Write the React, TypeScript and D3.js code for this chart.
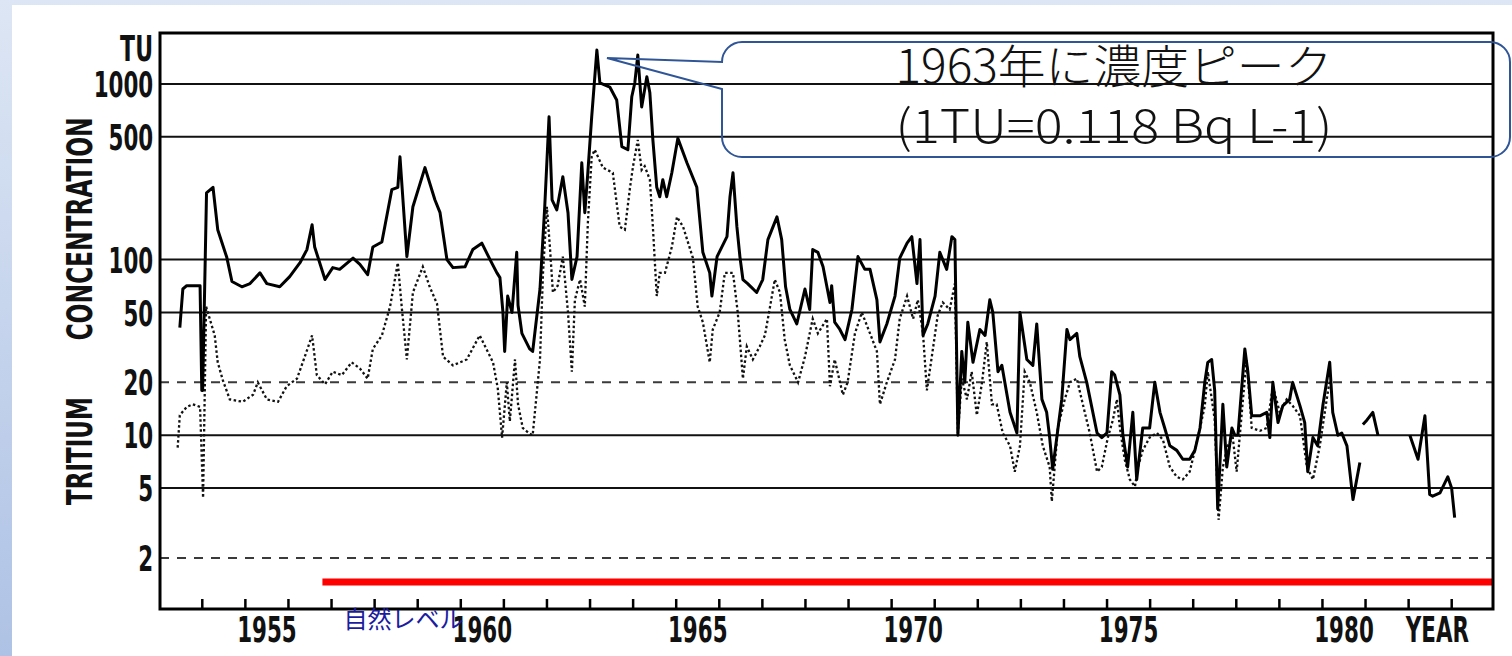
import React, { useRef, useEffect } from "react";
import * as d3 from "d3";

// Tritium in precipitation (TU), solid line; null marks a gap in the record
const solidYears = [
  1953.49, 1953.56, 1953.65, 1953.96, 1954.0, 1954.02, 1954.11, 1954.26, 1954.37, 1954.58,
  1954.7, 1954.93, 1955.12, 1955.35, 1955.51, 1955.81, 1956.04, 1956.28, 1956.44, 1956.56,
  1956.62, 1956.86, 1957.04, 1957.2, 1957.51, 1957.67, 1957.85, 1957.97, 1958.18, 1958.41,
  1958.55, 1958.6, 1958.76, 1958.9, 1959.18, 1959.41, 1959.53, 1959.69, 1959.83, 1960.11,
  1960.29, 1960.5, 1960.69, 1960.85, 1960.92, 1960.99, 1961.03, 1961.1, 1961.2, 1961.31,
  1961.34, 1961.43, 1961.61, 1961.68, 1961.85, 1961.96, 1962.06, 1962.13, 1962.24, 1962.38,
  1962.5, 1962.59, 1962.71, 1962.82, 1962.89, 1962.96, 1963.05, 1963.17, 1963.24, 1963.47,
  1963.63, 1963.75, 1963.89, 1963.98, 1964.05, 1964.12, 1964.21, 1964.33, 1964.4, 1964.47,
  1964.56, 1964.63, 1964.7, 1964.79, 1964.91, 1965.05, 1965.26, 1965.49, 1965.63, 1965.79,
  1965.84, 1965.96, 1966.19, 1966.26, 1966.33, 1966.42, 1966.49, 1966.56, 1966.67, 1966.88,
  1967.02, 1967.14, 1967.35, 1967.46, 1967.55, 1967.65, 1967.81, 1968.0, 1968.11, 1968.18,
  1968.3, 1968.42, 1968.58, 1968.62, 1968.69, 1968.81, 1968.93, 1969.09, 1969.23, 1969.39,
  1969.51, 1969.67, 1969.74, 1969.9, 1970.09, 1970.2, 1970.37, 1970.48, 1970.6, 1970.67,
  1970.74, 1970.85, 1971.02, 1971.13, 1971.29, 1971.41, 1971.48, 1971.55, 1971.64, 1971.71,
  1971.78, 1971.9, 1972.06, 1972.18, 1972.29, 1972.36, 1972.48, 1972.57, 1972.76, 1972.92,
  1972.99, 1973.15, 1973.29, 1973.38, 1973.5, 1973.61, 1973.68, 1973.75, 1973.96, 1974.08,
  1974.15, 1974.31, 1974.38, 1974.54, 1974.78, 1974.89, 1975.01, 1975.12, 1975.19, 1975.31,
  1975.38, 1975.49, 1975.61, 1975.7, 1975.84, 1976.0, 1976.12, 1976.24, 1976.35, 1976.47,
  1976.63, 1976.77, 1976.93, 1977.05, 1977.17, 1977.28, 1977.35, 1977.44, 1977.51, 1977.58,
  1977.7, 1977.79, 1977.91, 1977.98, 1978.05, 1978.14, 1978.21, 1978.28, 1978.37, 1978.56,
  1978.72, 1978.79, 1978.86, 1978.98, 1979.09, 1979.25, 1979.32, 1979.49, 1979.6, 1979.67,
  1979.79, 1979.9, 1980.02, 1980.18, 1980.25, 1980.37, 1980.46, 1980.58, 1980.72, 1980.88,
  1980.92, 1980.95, 1981.02, 1981.18, 1981.3, 1981.6, 1982.04, 1982.23, 1982.39, 1982.5,
  1982.57, 1982.74, 1982.92, 1983.01, 1983.08,
];
const solidValues: (number | null)[] = [
  41, 68, 71, 71, 18, 18, 240, 258, 148, 103,
  75, 70, 73, 84, 73, 70, 80, 96, 114, 158,
  118, 77, 90, 88, 102, 94, 82, 118, 126, 250,
  258, 385, 104, 200, 334, 219, 185, 100, 90, 91,
  114, 124, 100, 84, 79, 50, 30, 62, 50, 110,
  55, 38, 31, 30, 68, 200, 650, 219, 192, 296,
  185, 77, 104, 356, 185, 312, 650, 1560, 1013, 960,
  811, 440, 422, 845, 1013, 1460, 740, 1100, 890, 480,
  258, 228, 285, 228, 312, 490, 356, 258, 110, 84,
  62, 104, 135, 228, 312, 154, 104, 77, 73, 65,
  77, 130, 175, 130, 70, 52, 43, 68, 52, 114,
  110, 91, 57, 71, 44, 40, 35, 52, 104, 88,
  88, 59, 34, 43, 62, 102, 124, 135, 73, 130,
  37, 43, 62, 110, 88, 135, 130, 10, 30, 20,
  44, 26, 40, 37, 59, 50, 23, 25, 13.5, 10.3,
  50, 27, 25, 43, 16, 13.5, 9.7, 6.4, 16, 40,
  35, 38, 28, 20, 10.3, 9.7, 10.3, 23, 22, 17,
  10, 6.6, 13.5, 5.6, 11, 11, 20, 13.5, 11, 8.7,
  8.2, 7.3, 7.3, 8.2, 11, 20, 26, 27, 18, 3.8,
  15, 6.6, 11, 10, 10, 19, 31, 23, 12.9, 12.9,
  13.5, 9.7, 20, 11.8, 14.7, 16, 20, 14.7, 11.8, 6.2,
  9.7, 8.7, 14.7, 26, 13.5, 10, 10.3, 8.7, 4.3, 7,
  null, 11.5, 12, 13.5, 10, null, 10, 7.3, 12.9, 4.6,
  4.5, 4.7, 5.8, 5, 3.4,
];

// second record, dotted line
const dottedYears = [
  1953.44, 1953.49, 1953.65, 1953.79, 1953.96, 1954.03, 1954.1, 1954.3, 1954.37, 1954.49,
  1954.65, 1954.95, 1955.19, 1955.3, 1955.51, 1955.77, 1955.97, 1956.21, 1956.39, 1956.56,
  1956.67, 1956.86, 1957.04, 1957.25, 1957.48, 1957.67, 1957.85, 1957.97, 1958.18, 1958.37,
  1958.55, 1958.64, 1958.76, 1958.9, 1959.13, 1959.29, 1959.46, 1959.6, 1959.83, 1960.15,
  1960.45, 1960.76, 1960.87, 1960.97, 1961.08, 1961.15, 1961.27, 1961.34, 1961.45, 1961.61,
  1961.68, 1961.85, 1961.92, 1962.01, 1962.08, 1962.15, 1962.26, 1962.38, 1962.5, 1962.59,
  1962.66, 1962.78, 1962.89, 1962.96, 1963.05, 1963.12, 1963.31, 1963.54, 1963.7, 1963.82,
  1963.94, 1964.01, 1964.12, 1964.21, 1964.28, 1964.4, 1964.47, 1964.56, 1964.63, 1964.75,
  1964.91, 1965.03, 1965.17, 1965.4, 1965.51, 1965.63, 1965.79, 1965.86, 1966.02, 1966.14,
  1966.33, 1966.44, 1966.56, 1966.65, 1966.79, 1966.95, 1967.07, 1967.19, 1967.3, 1967.42,
  1967.53, 1967.65, 1967.84, 1968.0, 1968.11, 1968.18, 1968.3, 1968.51, 1968.58, 1968.69,
  1968.88, 1968.99, 1969.16, 1969.32, 1969.51, 1969.67, 1969.74, 1969.9, 1970.09, 1970.2,
  1970.37, 1970.51, 1970.62, 1970.74, 1970.83, 1970.97, 1971.08, 1971.2, 1971.36, 1971.48,
  1971.55, 1971.64, 1971.76, 1971.87, 1971.99, 1972.11, 1972.22, 1972.34, 1972.45, 1972.59,
  1972.76, 1972.87, 1972.99, 1973.1, 1973.22, 1973.38, 1973.52, 1973.68, 1973.73, 1973.87,
  1974.03, 1974.15, 1974.31, 1974.45, 1974.61, 1974.78, 1974.89, 1975.03, 1975.15, 1975.24,
  1975.31, 1975.42, 1975.54, 1975.66, 1975.73, 1975.84, 1976.0, 1976.17, 1976.31, 1976.47,
  1976.63, 1976.77, 1976.93, 1977.05, 1977.17, 1977.28, 1977.35, 1977.51, 1977.6, 1977.7,
  1977.81, 1977.93, 1978.02, 1978.14, 1978.25, 1978.37, 1978.56, 1978.72, 1978.86, 1979.02,
  1979.18, 1979.32, 1979.49, 1979.65, 1979.79, 1979.95, 1980.11, 1980.18,
];
const dottedValues = [
  8.5, 13, 14.5, 15, 14.5, 4.4, 54, 37, 26, 20.5,
  16, 15.5, 17, 20, 16, 15.5, 19, 21, 28, 37,
  22, 19.5, 23, 22, 26, 24, 21, 31, 37, 54,
  96, 54, 27, 65, 91, 70, 56, 28, 25, 27,
  37, 26, 18.5, 9.7, 20, 12, 27, 15, 11, 10.2,
  10, 27, 84, 200, 118, 65, 71, 104, 50, 23,
  59, 77, 54, 160, 385, 422, 334, 312, 154, 148,
  258, 340, 480, 324, 340, 285, 154, 62, 84, 84,
  118, 175, 154, 102, 54, 44, 26, 40, 50, 84,
  84, 50, 21, 32, 27, 32, 37, 54, 77, 65,
  35, 25, 20, 28, 38, 46, 38, 46, 19, 27,
  17, 20, 38, 50, 38, 30, 15, 20, 27, 46,
  62, 46, 59, 38, 18, 31, 48, 57, 52, 73,
  10.3, 21, 16, 23, 13, 20, 34, 15, 15, 10.3,
  8.7, 6.2, 8.7, 23, 20, 13.5, 8.7, 6.6, 4.2, 11,
  16, 20, 21, 15, 10.3, 6.2, 6.6, 9.7, 12.3, 16,
  11, 7.3, 5.6, 5.1, 6.6, 8.2, 9.7, 10.3, 9.4, 6.6,
  5.8, 5.6, 6.2, 8.2, 11, 14.7, 23, 12.3, 3.3, 6.6,
  8.7, 9.7, 6.2, 13.5, 27, 11, 10.6, 11, 19, 13.5,
  16, 14.7, 12.9, 6.6, 5.6, 8.7, 16, 20.5,
];

const gridValues = [1000, 500, 100, 50, 20, 10, 5, 2];
const dashedGridValues = [20, 2];
const yearTicks = [
  1954, 1955, 1956, 1957, 1958, 1959, 1960, 1961, 1962, 1963, 1964, 1965, 1966, 1967, 1968,
  1969, 1970, 1971, 1972, 1973, 1974, 1975, 1976, 1977, 1978, 1979, 1980, 1981, 1982, 1983,
];
const labelYears = [1955, 1960, 1965, 1970, 1975, 1980];
const naturalLevel = 1.46;
const naturalLevelFrom = 1956.8;
const naturalLevelLabel = "自然レベル";
const peakNote = ["1963年に濃度ピーク", "(1TU=0.118 Bq L-1)"];

const App: React.FC = () => {
  const chartRef = useRef<SVGSVGElement | null>(null);

  useEffect(() => {
    if (!chartRef.current) return;
    const svg = d3.select(chartRef.current);
    svg.selectAll("*").remove();

    const width = 1512;
    const height = 656;
    const left = 160;
    const right = 1493;
    const top = 33;
    const bottom = 609;
    const axisFont = "'DejaVu Sans Condensed', 'DejaVu Sans', sans-serif";
    const jpFont = "'Noto Sans CJK JP', 'Noto Sans', sans-serif";

    const x = d3.scaleLinear().domain([1953.03, 1983.97]).range([left, right]);
    const y = d3.scaleLog().domain([1.025, 1950]).range([bottom, top]);

    // slide background
    const grad = svg
      .append("defs")
      .append("linearGradient")
      .attr("id", "bg")
      .attr("x1", 0)
      .attr("y1", 0)
      .attr("x2", 0)
      .attr("y2", 1);
    grad.append("stop").attr("offset", "0%").attr("stop-color", "#dde6f4");
    grad.append("stop").attr("offset", "100%").attr("stop-color", "#aec2e5");
    svg.append("rect").attr("width", width).attr("height", height).attr("fill", "url(#bg)");
    svg
      .append("rect")
      .attr("x", 12)
      .attr("y", 5)
      .attr("width", width - 12)
      .attr("height", height - 5)
      .attr("fill", "#fff");

    // horizontal grid
    svg
      .append("g")
      .selectAll("line")
      .data(gridValues)
      .join("line")
      .attr("x1", left)
      .attr("x2", right)
      .attr("y1", (d) => y(d))
      .attr("y2", (d) => y(d))
      .attr("stroke", (d) => (dashedGridValues.includes(d) ? "#3a3a3a" : "#111"))
      .attr("stroke-width", 2)
      .attr("stroke-dasharray", (d) => (dashedGridValues.includes(d) ? "9,8" : null));

    // natural level
    svg
      .append("line")
      .attr("x1", x(naturalLevelFrom))
      .attr("x2", right)
      .attr("y1", y(naturalLevel))
      .attr("y2", y(naturalLevel))
      .attr("stroke", "#ff0000")
      .attr("stroke-width", 7);

    // series
    const solid = solidYears.map((t, i) => ({ t, v: solidValues[i] }));
    const dotted = dottedYears.map((t, i) => ({ t, v: dottedValues[i] }));
    const line = d3
      .line<{ t: number; v: number | null }>()
      .defined((d) => d.v != null)
      .x((d) => x(d.t))
      .y((d) => y(d.v as number));

    svg
      .append("path")
      .datum(dotted)
      .attr("d", line)
      .attr("fill", "none")
      .attr("stroke", "#111")
      .attr("stroke-width", 2.3)
      .attr("stroke-dasharray", "2.5,2.5");

    svg
      .append("path")
      .datum(solid)
      .attr("d", line)
      .attr("fill", "none")
      .attr("stroke", "#000")
      .attr("stroke-width", 3)
      .attr("stroke-linejoin", "round");

    // frame
    svg
      .append("rect")
      .attr("x", left)
      .attr("y", top)
      .attr("width", right - left)
      .attr("height", bottom - top)
      .attr("fill", "none")
      .attr("stroke", "#000")
      .attr("stroke-width", 3);

    // year ticks, pointing inward
    svg
      .append("g")
      .attr("transform", `translate(0,${bottom})`)
      .call(d3.axisBottom(x).tickValues(yearTicks).tickSize(-10).tickFormat(() => ""))
      .call((g) => g.select(".domain").remove())
      .call((g) => g.selectAll("line").attr("stroke", "#000").attr("stroke-width", 2.5));

    // year labels, centred in the year
    svg
      .append("g")
      .attr("transform", `translate(0,${bottom})`)
      .call(
        d3
          .axisBottom(x)
          .tickValues(labelYears.map((d) => d + 0.5))
          .tickSize(0)
          .tickFormat((d) => String(Math.floor(+d)))
      )
      .call((g) => g.select(".domain").remove())
      .call((g) =>
        g
          .selectAll("text")
          .attr("y", 33)
          .attr("dy", 0)
          .attr("transform", "scale(0.68,1)")
          .attr("font-family", axisFont)
          .attr("font-weight", 700)
          .attr("font-size", 35)
          .attr("fill", "#111")
      );

    svg
      .append("text")
      .attr("transform", `translate(${x(1982.68)},${bottom + 33}) scale(0.68,1)`)
      .attr("text-anchor", "middle")
      .attr("font-family", axisFont)
      .attr("font-weight", 700)
      .attr("font-size", 35)
      .attr("fill", "#111")
      .text("YEAR");

    // concentration labels
    svg
      .append("g")
      .attr("transform", `translate(${left},0)`)
      .call(d3.axisLeft(y).tickValues(gridValues).tickSize(0).tickFormat(d3.format("d")))
      .call((g) => g.select(".domain").remove())
      .call((g) =>
        g
          .selectAll("text")
          .attr("x", -10)
          .attr("dy", "0.36em")
          .attr("transform", "scale(0.68,1)")
          .attr("font-family", axisFont)
          .attr("font-weight", 700)
          .attr("font-size", 35)
          .attr("fill", "#111")
      );

    svg
      .append("text")
      .attr("transform", `translate(${left - 7},${top + 28}) scale(0.68,1)`)
      .attr("text-anchor", "end")
      .attr("font-family", axisFont)
      .attr("font-weight", 700)
      .attr("font-size", 36)
      .attr("fill", "#111")
      .text("TU");

    const yTitle = [
      { text: "CONCENTRATION", cy: 229, len: 223 },
      { text: "TRITIUM", cy: 451, len: 108 },
    ];
    svg
      .append("g")
      .selectAll("text")
      .data(yTitle)
      .join("text")
      .attr("transform", (d) => `translate(92,${d.cy}) rotate(-90)`)
      .attr("text-anchor", "middle")
      .attr("font-family", axisFont)
      .attr("font-weight", 700)
      .attr("font-size", 36)
      .attr("fill", "#111")
      .attr("textLength", (d) => d.len)
      .attr("lengthAdjust", "spacingAndGlyphs")
      .text((d) => d.text);

    svg
      .append("text")
      .attr("x", x(naturalLevelFrom) + 21)
      .attr("y", 628)
      .attr("font-family", jpFont)
      .attr("font-size", 24)
      .attr("fill", "#1c1ca0")
      .text(naturalLevelLabel);

    // callout pointing at the 1963 peak
    const bx0 = 722;
    const bx1 = 1510;
    const by0 = 42;
    const by1 = 157;
    const r = 20;
    const tipX = 607;
    const tipY = 58;
    const callout = [
      `M${bx0 + r},${by0}`,
      `H${bx1 - r}`,
      `A${r},${r} 0 0 1 ${bx1},${by0 + r}`,
      `V${by1 - r}`,
      `A${r},${r} 0 0 1 ${bx1 - r},${by1}`,
      `H${bx0 + r}`,
      `A${r},${r} 0 0 1 ${bx0},${by1 - r}`,
      `V89`,
      `L${tipX},${tipY}`,
      `L${bx0},${by0 + r}`,
      `A${r},${r} 0 0 1 ${bx0 + r},${by0}`,
      "Z",
    ].join(" ");
    svg
      .append("path")
      .attr("d", callout)
      .attr("fill", "none")
      .attr("stroke", "#2f5597")
      .attr("stroke-width", 2);

    svg
      .append("g")
      .selectAll("text")
      .data(peakNote)
      .join("text")
      .attr("x", 1114)
      .attr("y", (_, i) => 83 + i * 60)
      .attr("text-anchor", "middle")
      .attr("font-family", jpFont)
      .attr("font-weight", 300)
      .attr("font-size", 46)
      .attr("fill", "#111")
      .attr("textLength", 437)
      .attr("lengthAdjust", "spacingAndGlyphs")
      .text((d) => d);
  }, []);

  return (
    <div style={{ position: "absolute", left: 0, top: 0 }}>
      <svg ref={chartRef} width={1512} height={656} style={{ display: "block" }} />
    </div>
  );
};

export default App;
